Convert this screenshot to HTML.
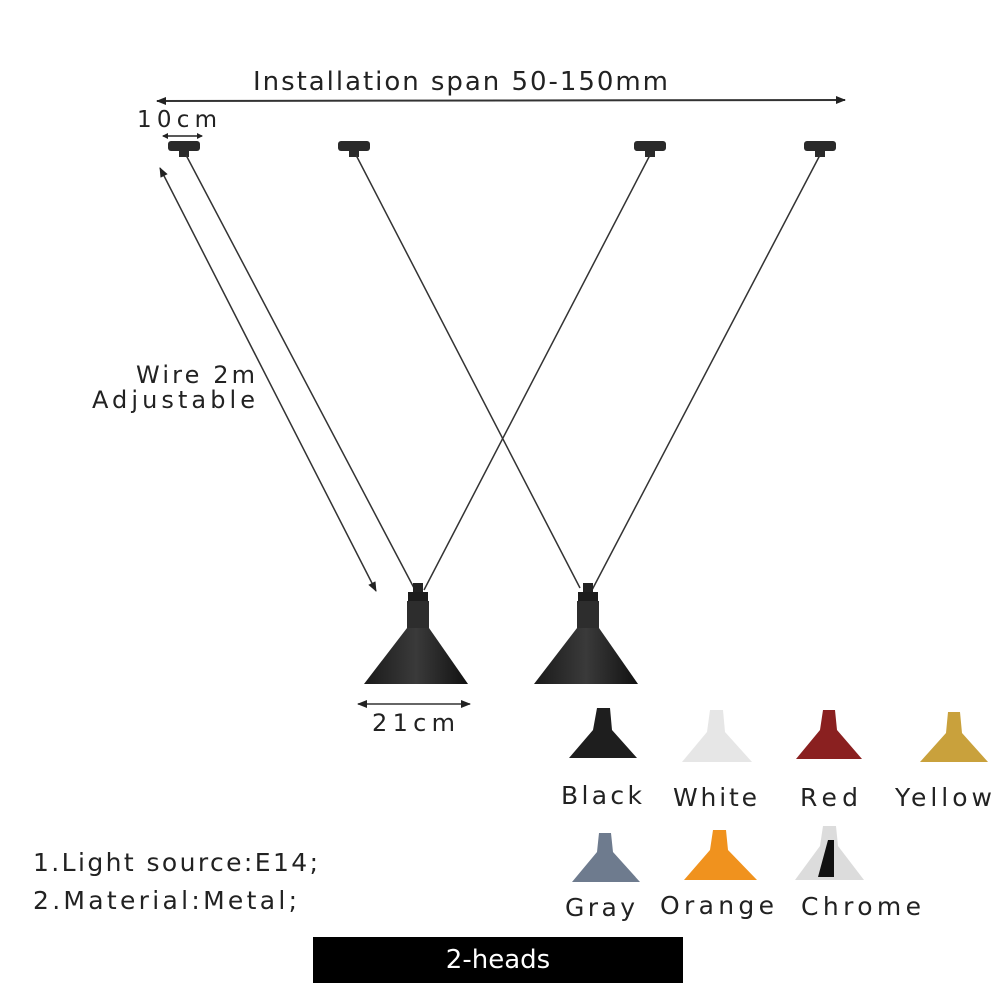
<!DOCTYPE html><html><head><style>body{margin:0;background:#fff}svg text{font-family:"DejaVu Sans","Liberation Sans",sans-serif;fill:#222}</style></head><body>
<svg width="1000" height="1000" viewBox="0 0 1000 1000" xmlns="http://www.w3.org/2000/svg">
<defs>
<marker id="a" markerWidth="10" markerHeight="8" refX="9" refY="4" orient="auto-start-reverse" markerUnits="userSpaceOnUse"><path d="M0,0 L10,4 L0,8 Z" fill="#222"/></marker>
<marker id="s" markerWidth="6" markerHeight="6" refX="5" refY="3" orient="auto-start-reverse" markerUnits="userSpaceOnUse"><path d="M0,0 L6,3 L0,6 Z" fill="#222"/></marker>
<linearGradient id="cone" x1="0" x2="1"><stop offset="0" stop-color="#1a1a1a"/><stop offset=".5" stop-color="#3a3a3a"/><stop offset="1" stop-color="#111"/></linearGradient>
</defs>
<text x="253" y="90" font-size="26" textLength="415" lengthAdjust="spacing">Installation span 50-150mm</text>
<line x1="157" y1="101" x2="845" y2="100" stroke="#333" stroke-width="2" marker-start="url(#a)" marker-end="url(#a)"/>
<text x="137" y="127" font-size="23" textLength="80" lengthAdjust="spacing">10cm</text>
<line x1="163" y1="136" x2="202" y2="136" stroke="#222" stroke-width="1.5" marker-start="url(#s)" marker-end="url(#s)"/>
<g fill="#2a2a2a">
<rect x="168" y="141" width="32" height="10" rx="3"/><rect x="179" y="150" width="10" height="7"/>
<rect x="338" y="141" width="32" height="10" rx="3"/><rect x="349" y="150" width="10" height="7"/>
<rect x="634" y="141" width="32" height="10" rx="3"/><rect x="645" y="150" width="10" height="7"/>
<rect x="804" y="141" width="32" height="10" rx="3"/><rect x="815" y="150" width="10" height="7"/>
</g>
<g stroke="#333" stroke-width="1.5">
<line x1="186" y1="155" x2="414" y2="588"/>
<line x1="356" y1="155" x2="580" y2="588"/>
<line x1="650" y1="155" x2="424" y2="590"/>
<line x1="820" y1="155" x2="592" y2="590"/>
</g>
<line x1="160" y1="168" x2="376" y2="591" stroke="#333" stroke-width="1.5" marker-start="url(#a)" marker-end="url(#a)"/>
<text x="136" y="383" font-size="24" textLength="119" lengthAdjust="spacing">Wire 2m</text>
<text x="92" y="408" font-size="24" textLength="163" lengthAdjust="spacing">Adjustable</text>
<g id="L">
<rect x="413" y="583" width="10" height="12" fill="#222"/>
<rect x="408" y="592" width="20" height="10" fill="#1c1c1c"/>
<rect x="407" y="601" width="22" height="30" fill="#2d2d2d"/>
<path d="M407,628 L429,628 L468,684 L364,684 Z" fill="url(#cone)"/>
</g>
<use href="#L" transform="translate(170,0)"/>
<line x1="358" y1="704" x2="470" y2="704" stroke="#333" stroke-width="1.5" marker-start="url(#a)" marker-end="url(#a)"/>
<text x="372" y="731" font-size="24" textLength="83" lengthAdjust="spacing">21cm</text>
<g>
<path d="M597,708 L610,708 L612,730 L637,758 L569,758 L593,730 Z" fill="#1e1e1e"/>
<path d="M710,710 L723,710 L725,732 L752,762 L682,762 L707,732 Z" fill="#e6e6e6"/>
<path d="M823,710 L835,710 L837,730 L862,759 L796,759 L820,730 Z" fill="#8a2020"/>
<path d="M948,712 L960,712 L962,733 L988,762 L920,762 L946,733 Z" fill="#c9a13c"/>
<path d="M599,833 L611,833 L613,852 L640,882 L572,882 L597,852 Z" fill="#6e7b8e"/>
<path d="M713,830 L726,830 L728,850 L757,880 L684,880 L710,850 Z" fill="#f0921e"/>
<path d="M823,826 L836,826 L838,846 L864,880 L795,880 L820,846 Z" fill="#dcdcdc"/>
<path d="M828,840 L834,840 L834,877 L818,877 Z" fill="#111"/>
</g>
<g font-size="25">
<text x="561" y="804" textLength="81" lengthAdjust="spacing">Black</text>
<text x="673" y="806" textLength="84" lengthAdjust="spacing">White</text>
<text x="800" y="806" textLength="58" lengthAdjust="spacing">Red</text>
<text x="895" y="806" textLength="97" lengthAdjust="spacing">Yellow</text>
<text x="565" y="916" textLength="70" lengthAdjust="spacing">Gray</text>
<text x="660" y="914" textLength="114" lengthAdjust="spacing">Orange</text>
<text x="801" y="915" textLength="120" lengthAdjust="spacing">Chrome</text>
<text x="33" y="871" textLength="285" lengthAdjust="spacing">1.Light source:E14;</text>
<text x="33" y="909" textLength="264" lengthAdjust="spacing">2.Material:Metal;</text>
</g>
<rect x="313" y="937" width="370" height="46" fill="#000"/>
<text x="498" y="968" font-size="26" text-anchor="middle" style="fill:#fff" font-family="Liberation Sans, sans-serif">2-heads</text>
</svg></body></html>
